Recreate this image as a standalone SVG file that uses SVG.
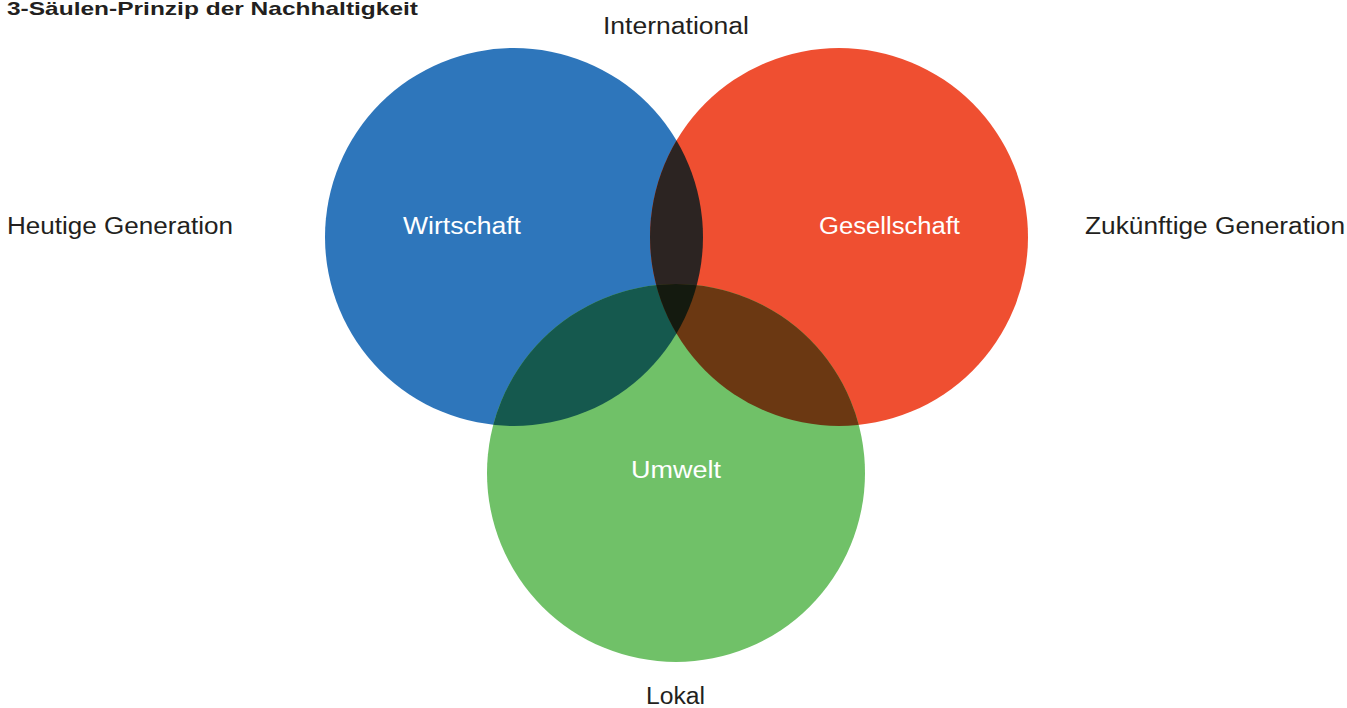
<svg xmlns="http://www.w3.org/2000/svg" width="1347" height="708" viewBox="0 0 1347 708">
<style>
text{font-family:"Liberation Sans",Arial,sans-serif;}
.lbl{font-size:23px;fill:#231f20;}
.in{font-size:23px;fill:#ffffff;}
.t{font-size:19px;font-weight:bold;fill:#231f20;}
</style>
<defs>
<clipPath id="cb"><circle cx="514" cy="237" r="189"/></clipPath>
<clipPath id="cr"><circle cx="839" cy="237" r="189"/></clipPath>
<clipPath id="cg"><circle cx="676" cy="473" r="189"/></clipPath>
</defs>
<rect width="1347" height="708" fill="#ffffff"/>
<text class="t" x="7" y="15" textLength="411" lengthAdjust="spacingAndGlyphs">3-Säulen-Prinzip der Nachhaltigkeit</text>
<g id="wirtschaft">
<circle cx="514" cy="237" r="189" fill="#2e76bb"/>
</g>
<g id="gesellschaft">
<circle cx="839" cy="237" r="189" fill="#ef4f31"/>
</g>
<g id="umwelt">
<circle cx="676" cy="473" r="189" fill="#70c168"/>
</g>
<g id="overlaps">
<circle cx="839" cy="237" r="189" fill="#2c2422" clip-path="url(#cb)"/>
<circle cx="676" cy="473" r="189" fill="#15594e" clip-path="url(#cb)"/>
<circle cx="676" cy="473" r="189" fill="#6b3812" clip-path="url(#cr)"/>
<g clip-path="url(#cb)"><circle cx="676" cy="473" r="189" fill="#141a0f" clip-path="url(#cr)"/></g>
</g>
<g id="labels-inner">
<text class="in" x="403" y="234" textLength="118" lengthAdjust="spacingAndGlyphs">Wirtschaft</text>
<text class="in" x="819" y="234" textLength="141" lengthAdjust="spacingAndGlyphs">Gesellschaft</text>
<text class="in" x="631" y="478" textLength="90" lengthAdjust="spacingAndGlyphs">Umwelt</text>
</g>
<g id="labels-outer">
<text class="lbl" x="603" y="34" textLength="146" lengthAdjust="spacingAndGlyphs">International</text>
<text class="lbl" x="7" y="234" textLength="226" lengthAdjust="spacingAndGlyphs">Heutige Generation</text>
<text class="lbl" x="1085" y="234" textLength="260" lengthAdjust="spacingAndGlyphs">Zukünftige Generation</text>
<text class="lbl" x="646" y="704" textLength="59" lengthAdjust="spacingAndGlyphs">Lokal</text>
</g>
</svg>
